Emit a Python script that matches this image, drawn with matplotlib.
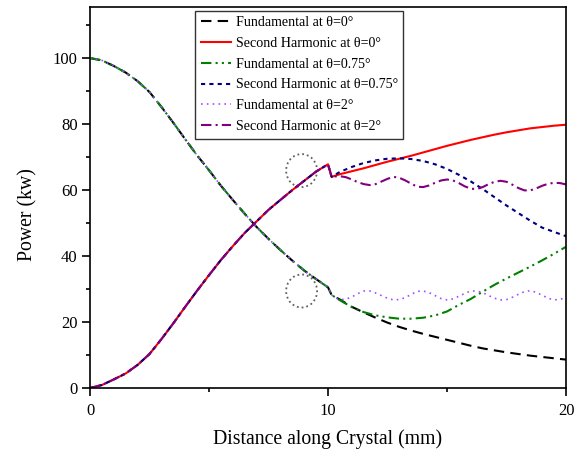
import matplotlib
matplotlib.use('Agg')
import matplotlib.pyplot as plt
from matplotlib.patches import Ellipse

plt.rcParams.update({'font.family': 'Liberation Serif',
                     'mathtext.fontset': 'stix',
                     'axes.linewidth': 1.2})

# common part (all curves overlap before the 10 mm point)
z_pre = [0, 0.5, 1, 1.5, 2, 2.5, 3, 3.5, 4, 4.5, 5, 5.5, 6, 6.5, 7, 7.5, 8, 8.5, 9, 9.5, 10]
sh_pre = [0, 0.9, 2.6, 4.4, 7.0, 10.3, 14.8, 19.6, 24.6, 29.5, 34.2, 38.8, 43.0,
          47.0, 50.5, 54.0, 57.0, 60.0, 62.8, 65.6, 67.8]
fund_pre = [100, 99.3, 97.6, 95.6, 93.0, 89.7, 85.2, 80.4, 75.4, 70.5, 66.0, 61.3,
            57.0, 52.8, 48.8, 45.2, 41.8, 38.6, 35.6, 33.0, 30.5]

# after the 10 mm point, smooth curves
z_post = [10.15, 10.5, 11, 11.5, 12, 12.5, 13, 13.5, 14, 14.5, 15, 15.5, 16, 16.5,
          17, 17.5, 18, 18.5, 19, 19.5, 20]
fund_0 = [28.2, 26.8, 24.6, 22.9, 21.3, 19.8, 18.5, 17.4, 16.4, 15.5, 14.6, 13.7,
          12.8, 12.0, 11.4, 10.8, 10.3, 9.8, 9.4, 9.0, 8.6]
sh_0 = [64.0, 64.8, 65.7, 66.6, 67.6, 68.6, 69.5, 70.4, 71.4, 72.4, 73.4, 74.3,
        75.2, 76.0, 76.8, 77.5, 78.1, 78.7, 79.1, 79.5, 79.8]
fund_075 = [28.2, 26.6, 24.5, 23.0, 22.0, 21.4, 21.0, 21.0, 21.3, 22.0, 23.2, 25.2,
            27.0, 29.2, 31.3, 33.2, 35.0, 36.8, 38.7, 40.7, 42.8]
sh_075 = [64.0, 65.5, 67.0, 68.2, 69.0, 69.5, 69.6, 69.4, 68.8, 67.8, 66.4, 64.6,
          62.6, 60.3, 57.8, 55.3, 53.0, 50.7, 48.6, 47.3, 46.0]

# after the 10 mm point, oscillating curves
z_osc = [10.15, 10.25, 10.5, 10.75, 11, 11.25, 11.5, 11.75, 12, 12.25, 12.5, 12.75,
         13, 13.25, 13.5, 13.75, 14, 14.25, 14.5, 14.75, 15, 15.25, 15.5, 15.75,
         16, 16.25, 16.5, 16.75, 17, 17.25, 17.5, 17.75, 18, 18.25, 18.5, 18.75,
         19, 19.25, 19.5, 19.75, 20]
fund_2 = [28.2, 27.5, 26.8, 26.9, 27.6, 28.6, 29.4, 29.4, 28.8, 28.0, 27.2, 26.7,
          26.8, 27.4, 28.4, 29.3, 29.4, 28.9, 28.0, 27.1, 26.7, 27.0, 27.8, 28.7,
          29.4, 29.4, 28.9, 28.0, 27.2, 26.7, 26.8, 27.5, 28.4, 29.2, 29.5, 29.0,
          28.1, 27.2, 26.7, 26.9, 27.4]
sh_2 = [64.0, 64.1, 64.2, 63.9, 63.2, 62.4, 61.8, 61.5, 61.8, 62.6, 63.4, 64.0,
        63.7, 62.9, 61.9, 61.0, 60.9, 61.4, 62.2, 62.9, 63.2, 62.9, 62.1, 61.1,
        60.4, 60.3, 60.9, 61.8, 62.5, 62.8, 62.5, 61.6, 60.6, 59.9, 59.9, 60.5,
        61.3, 61.9, 62.2, 62.1, 61.7]

labels = [u'Fundamental at \u03b8=0\u00b0', u'Second Harmonic at \u03b8=0\u00b0',
          u'Fundamental at \u03b8=0.75\u00b0', u'Second Harmonic at \u03b8=0.75\u00b0',
          u'Fundamental at \u03b8=2\u00b0', u'Second Harmonic at \u03b8=2\u00b0']

fig = plt.figure(figsize=(5.77, 4.5), dpi=100)
ax = fig.add_axes([0.156, 0.1378, 0.825, 0.8468])

ax.plot(z_pre + z_post, fund_pre + fund_0, color='black', lw=1.5, ls=(0, (5, 3)), label=labels[0])
ax.plot(z_pre + z_post, sh_pre + sh_0, color='red', lw=1.5, ls='-', label=labels[1])
ax.plot(z_pre + z_post, fund_pre + fund_075, color='green', lw=1.5,
        ls=(0, (5, 2, 1, 2, 1, 2)), label=labels[2])
ax.plot(z_pre + z_post, sh_pre + sh_075, color='navy', lw=1.5, ls=(0, (2, 2)), label=labels[3])
ax.plot(z_pre + z_osc, fund_pre + fund_2, color='#a050ff', lw=1.2, ls=(0, (1, 2.5)), label=labels[4])
ax.plot(z_pre + z_osc, sh_pre + sh_2, color='purple', lw=1.5, ls=(0, (5, 2, 1, 2)), label=labels[5])

# dotted circles marking the step
for cy in [65.9, 29.4]:
    ax.add_patch(Ellipse((8.89, cy), 1.3, 10, fill=False, ec='#606060', ls=':', lw=1.3))

ax.set_xlim(0, 20)
ax.set_ylim(0, 115.5)
ax.set_xticks([0, 10, 20])
ax.set_xticks([5, 15], minor=True)
ax.set_yticks([0, 20, 40, 60, 80, 100])
ax.set_yticks([10, 30, 50, 70, 90, 110], minor=True)
ax.tick_params(which='major', direction='out', length=5.5, width=1.2, labelsize=12)
ax.tick_params(axis='x', which='major', pad=5)
ax.tick_params(axis='y', which='major', pad=3.5)
ax.tick_params(which='minor', direction='out', length=3, width=1.2)
ax.tick_params(top=False, right=False)

ax.set_xlabel('Distance along Crystal (mm)', fontsize=14.2, labelpad=8)
ax.set_ylabel('Power (kw)', fontsize=14.2)
ax.yaxis.set_label_coords(-0.11, 0.454)

leg = ax.legend(loc='upper left', bbox_to_anchor=(0.2206, 0.99), borderaxespad=0,
                fontsize=10.1, handlelength=2.2, handletextpad=0.3, labelspacing=0.55,
                frameon=True, fancybox=False, borderpad=0.4)
leg.get_frame().set_edgecolor('black')
leg.get_frame().set_linewidth(1.0)

fig.savefig('out.png', dpi=100)
